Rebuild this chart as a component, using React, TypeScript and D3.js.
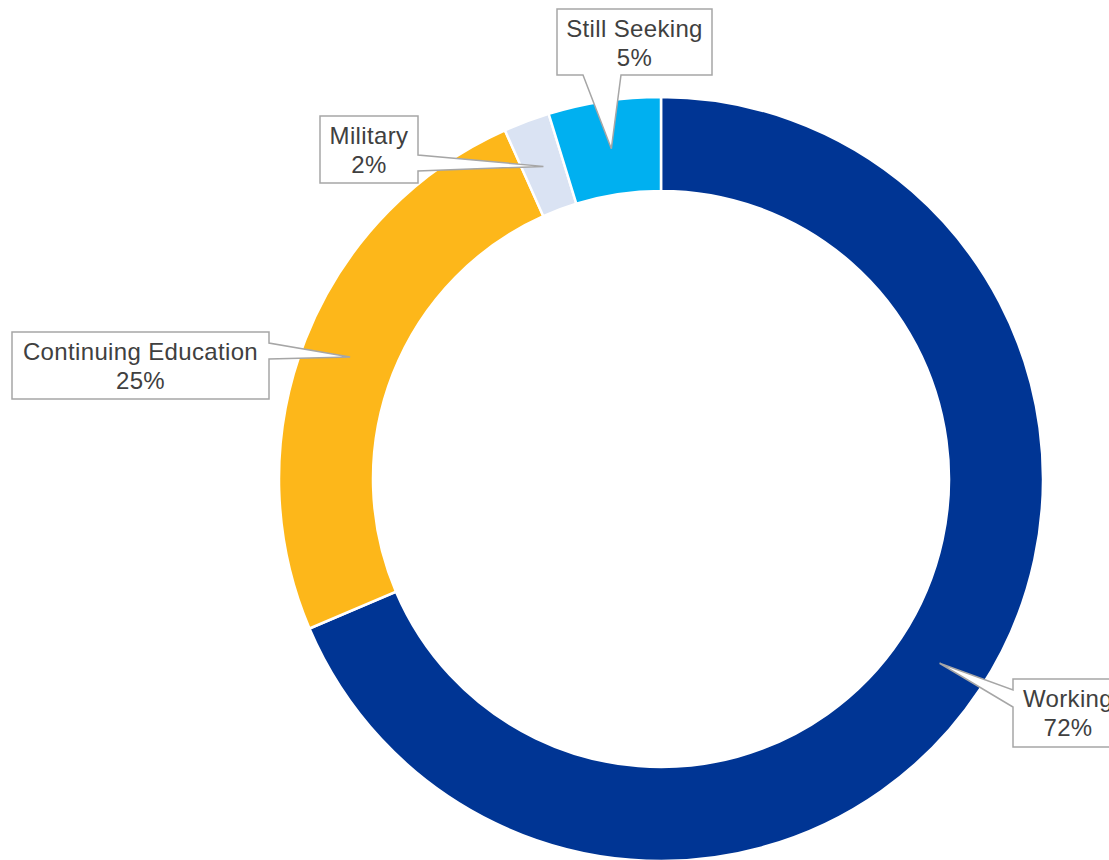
import React from "react";
import * as d3 from "d3";

const categories = ["Working", "Continuing Education", "Military", "Still Seeking"];
const shares = [68.6, 24.7, 1.95, 4.75];
const percentLabels = ["72%", "25%", "2%", "5%"];
const colors = ["#003594", "#FDB71A", "#DAE3F3", "#00B0F0"];

// label box layout (annotation placement)
type Box = { x: number; y: number; w: number; h: number; side: "left" | "right" | "bottom"; a: number; b: number };
const boxes: Box[] = [
  { x: 1013, y: 679, w: 110, h: 68, side: "left", a: 11, b: 28 },
  { x: 12, y: 332, w: 257, h: 67, side: "right", a: 11, b: 27 },
  { x: 320, y: 116, w: 98, h: 67, side: "right", a: 39, b: 55 },
  { x: 557, y: 9, w: 155, h: 66, side: "bottom", a: 26, b: 64 },
];

const W = 1109;
const H = 860;
const cx = 661;
const cy = 479;
const R = 382;
const r = 288;

function calloutPath(bx: Box, tip: [number, number]) {
  const { x, y, w, h, side, a, b } = bx;
  const x2 = x + w;
  const y2 = y + h;
  const [tx, ty] = tip;
  if (side === "bottom") {
    return `M${x},${y}H${x2}V${y2}H${x + b}L${tx},${ty}L${x + a},${y2}H${x}Z`;
  }
  if (side === "right") {
    return `M${x},${y}H${x2}V${y + a}L${tx},${ty}L${x2},${y + b}V${y2}H${x}Z`;
  }
  return `M${x},${y}H${x2}V${y2}H${x}V${y + b}L${tx},${ty}L${x},${y + a}Z`;
}

export default function App() {
  const pie = d3.pie<number>().sort(null).value((d) => d);
  const arcs = pie(shares);
  const arc = d3.arc<d3.PieArcDatum<number>>().innerRadius(r).outerRadius(R);
  const mid = d3.arc<d3.PieArcDatum<number>>().innerRadius((R + r) / 2 - 1).outerRadius((R + r) / 2 - 1);

  return (
    <svg
      width={W}
      height={H}
      style={{ position: "absolute", left: 0, top: 0, background: "#fff" }}
      fontFamily="'Liberation Sans', Arial, sans-serif"
    >
      <g transform={`translate(${cx},${cy})`}>
        {arcs.map((d, i) => (
          <path key={categories[i]} d={arc(d) || ""} fill={colors[i]} stroke="#fff" strokeWidth={2.5} />
        ))}
      </g>
      {arcs.map((d, i) => {
        const c = mid.centroid(d);
        const tip: [number, number] = [c[0] + cx, c[1] + cy];
        const bx = boxes[i];
        const tcx = bx.x + bx.w / 2;
        return (
          <g key={"lbl" + i}>
            <path d={calloutPath(bx, tip)} fill="#fff" stroke="#A6A6A6" strokeWidth={1.5} strokeLinejoin="miter" />
            <text x={tcx} y={bx.y + 28.3} textAnchor="middle" fontSize={24} letterSpacing={0.35} fill="#404040">
              {categories[i]}
            </text>
            <text x={tcx} y={bx.y + 56.5} textAnchor="middle" fontSize={24} letterSpacing={0.35} fill="#404040">
              {percentLabels[i]}
            </text>
          </g>
        );
      })}
    </svg>
  );
}
